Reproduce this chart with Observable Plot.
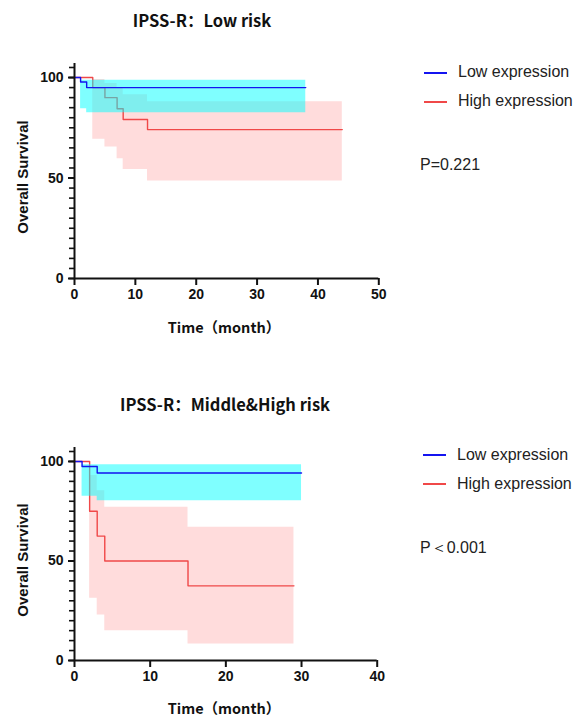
<!DOCTYPE html>
<html>
<head>
<meta charset="utf-8">
<script src="https://cdn.jsdelivr.net/npm/d3@7"></script>
<script src="https://cdn.jsdelivr.net/npm/@observablehq/plot@0.6"></script>
<style>
  html, body { margin: 0; padding: 0; background: #fff; }
  #root { position: relative; width: 586px; height: 720px; overflow: hidden; font-family: "Liberation Sans", Arial, sans-serif; }
  .abs { position: absolute; white-space: nowrap; }
  .title { font-family: "Noto Sans CJK SC", "Liberation Sans", sans-serif; font-weight: bold; font-size: 16.5px; color: #111; transform: translate(-50%, -50%); }
  .xlab { font-family: "Noto Sans CJK SC", "Liberation Sans", sans-serif; font-weight: bold; font-size: 14.5px; color: #111; transform: translate(-50%, -50%); }
  .ylab { font-weight: bold; font-size: 15px; color: #111; transform: translate(-50%, -50%) rotate(-90deg); }
  .leg { font-size: 16px; color: #222; transform: translateY(-50%); }
  .legline { position: absolute; width: 23px; height: 1.5px; }
  .plotbox { position: absolute; left: 0; }
</style>
</head>
<body>
<div id="root"></div>
<script>
// ---------- Data ----------
const titles = ["IPSS-R：Low risk", "IPSS-R：Middle&High risk"];
const xLabel = "Time（month）";
const yLabel = "Overall Survival";
const seriesNames = ["Low expression", "High expression"];
const pValues = ["P=0.221", "P＜0.001"];

// Panel 1 (Low risk)
const p1xTicks = [0, 10, 20, 30, 40, 50];
const p1LowTime = [0, 1, 2, 38];
const p1LowSurv = [100, 97.8, 95, 95];
const p1LowCiTime = [1, 2, 38];
const p1LowCiUpper = [98.6, 98.6, 98.6];
const p1LowCiLower = [84.5, 82.5, 82.5];
const p1HighTime = [0, 3, 5, 7, 8, 12, 44];
const p1HighSurv = [100, 95, 90, 84.5, 79.1, 74.1, 74.1];
const p1HighCiTime = [3, 5, 7, 8, 12, 44];
const p1HighCiUpper = [99, 97, 95, 91.5, 88, 88];
const p1HighCiLower = [69.3, 65.4, 59.6, 54.2, 48.5, 48.5];

// Panel 2 (Middle & High risk)
const p2xTicks = [0, 10, 20, 30, 40];
const p2LowTime = [0, 1, 3, 30];
const p2LowSurv = [100, 97.5, 94.2, 94.2];
const p2LowCiTime = [1, 3, 30];
const p2LowCiUpper = [98.4, 98.4, 98.4];
const p2LowCiLower = [82.5, 80.3, 80.3];
const p2HighTime = [0, 2, 3, 4, 15, 29];
const p2HighSurv = [100, 75, 62.5, 50, 37.5, 37.5];
const p2HighCiTime = [2, 3, 4, 15, 29];
const p2HighCiUpper = [93, 85.3, 77, 67, 67];
const p2HighCiLower = [31.3, 22.8, 15, 8.3, 8.3];

const yMajor = [0, 50, 100];
const yMinor = d3.range(0, 106, 5);

// ---------- Styles ----------
const lowColor = "#1414f0";
const highColor = "#f04848";
const lowFill = "#00ffff";
const highFill = "#ffdcdc";

const root = document.getElementById("root");

function zip(t, a, b) { return t.map((d, i) => ({t: d, a: a[i], b: b ? b[i] : undefined})); }

function panel(cfg) {
  const low = zip(cfg.lowTime, cfg.lowSurv);
  const high = zip(cfg.highTime, cfg.highSurv);
  const lowCi = zip(cfg.lowCiTime, cfg.lowCiLower, cfg.lowCiUpper);
  const highCi = zip(cfg.highCiTime, cfg.highCiLower, cfg.highCiUpper);
  const xMax = cfg.xTicks[cfg.xTicks.length - 1];
  const svg = Plot.plot({
    width: 586, height: cfg.height,
    marginLeft: 74, marginRight: cfg.marginRight, marginTop: cfg.marginTop, marginBottom: cfg.marginBottom,
    x: {domain: [0, xMax]},
    y: {domain: [0, 105]},
    style: {background: "transparent", overflow: "visible", fontFamily: "'Liberation Sans', Arial, sans-serif", color: "#111"},
    marks: [
      Plot.areaY(highCi, {x: "t", y1: "a", y2: "b", curve: "step-after", fill: highFill}),
      Plot.line(high, {x: "t", y: "a", curve: "step-after", stroke: highColor, strokeWidth: 1.4}),
      Plot.areaY(lowCi, {x: "t", y1: "a", y2: "b", curve: "step-after", fill: lowFill, fillOpacity: 0.5}),
      Plot.line(low, {x: "t", y: "a", curve: "step-after", stroke: lowColor, strokeWidth: 1.4}),
      Plot.ruleY([0], {x1: 0, x2: xMax, stroke: "#111", strokeWidth: 2}),
      Plot.ruleX([0], {y1: 0, y2: 107, stroke: "#111", strokeWidth: 2}),
      Plot.axisX({ticks: cfg.xTicks, tickSize: 7, strokeWidth: 2, tickPadding: 4, fontSize: 14, fontWeight: "bold", label: null}),
      Plot.axisY({ticks: yMinor, tickSize: 5, strokeWidth: 1.6, tickFormat: () => "", label: null}),
      Plot.axisY({ticks: yMajor, tickSize: 6, strokeWidth: 2, tickPadding: 5, fontSize: 14, fontWeight: "bold", label: null})
    ]
  });
  const box = document.createElement("div");
  box.className = "plotbox";
  box.style.top = cfg.top + "px";
  box.appendChild(svg);
  root.appendChild(box);
}

function addText(cls, text, x, y) {
  const d = document.createElement("div");
  d.className = "abs " + cls;
  d.style.left = x + "px";
  d.style.top = y + "px";
  d.textContent = text;
  root.appendChild(d);
}
function addLegLine(color, x, y) {
  const d = document.createElement("div");
  d.className = "legline";
  d.style.left = x + "px";
  d.style.top = y + "px";
  d.style.background = color;
  root.appendChild(d);
}

panel({top: 0, height: 340, marginTop: 67, marginBottom: 62, marginRight: 207.7, xTicks: p1xTicks,
  lowTime: p1LowTime, lowSurv: p1LowSurv, lowCiTime: p1LowCiTime, lowCiUpper: p1LowCiUpper, lowCiLower: p1LowCiLower,
  highTime: p1HighTime, highSurv: p1HighSurv, highCiTime: p1HighCiTime, highCiUpper: p1HighCiUpper, highCiLower: p1HighCiLower});
panel({top: 380, height: 340, marginTop: 71, marginBottom: 60, marginRight: 209.3, xTicks: p2xTicks,
  lowTime: p2LowTime, lowSurv: p2LowSurv, lowCiTime: p2LowCiTime, lowCiUpper: p2LowCiUpper, lowCiLower: p2LowCiLower,
  highTime: p2HighTime, highSurv: p2HighSurv, highCiTime: p2HighCiTime, highCiUpper: p2HighCiUpper, highCiLower: p2HighCiLower});

// Titles & axis labels
addText("title", titles[0], 202, 20);
addText("title", titles[1], 225, 404);
addText("xlab", xLabel, 224, 326);
addText("xlab", xLabel, 224, 707);
addText("ylab", yLabel, 22, 177);
addText("ylab", yLabel, 22, 560);

// Legends
addLegLine(lowColor, 424, 72);
addText("leg", seriesNames[0], 458, 72);
addLegLine(highColor, 424, 101);
addText("leg", seriesNames[1], 458, 101);
addText("leg", pValues[0], 420, 165);

addLegLine(lowColor, 423, 454);
addText("leg", seriesNames[0], 457, 455);
addLegLine(highColor, 423, 483);
addText("leg", seriesNames[1], 457, 484);
addText("leg", pValues[1], 420, 548);
</script>
</body>
</html>
